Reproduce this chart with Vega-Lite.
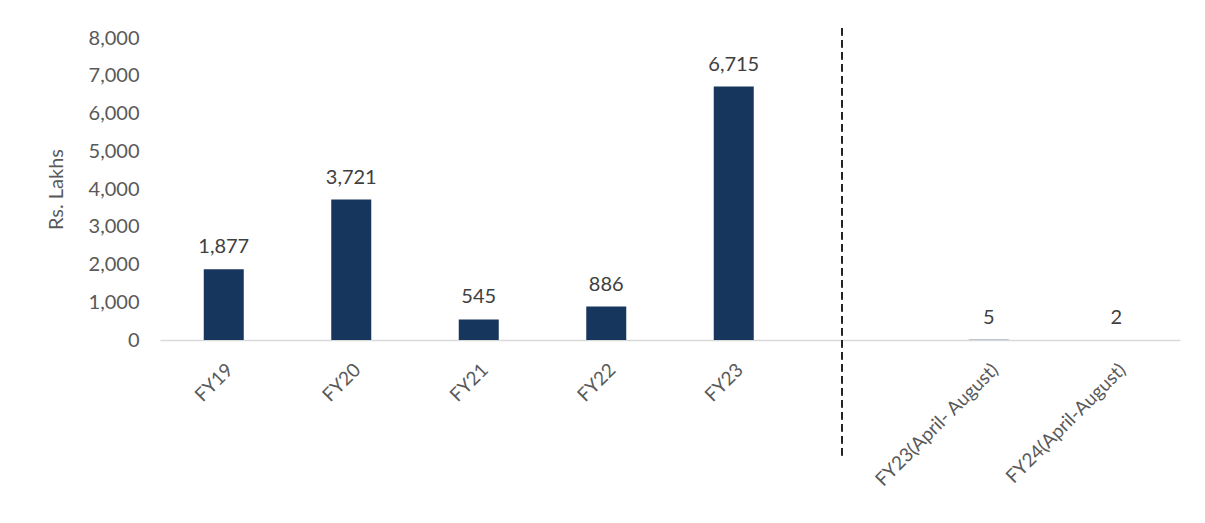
{
  "$schema": "https://vega.github.io/schema/vega-lite/v6.json",
  "autosize": "none",
  "width": 1020,
  "height": 302,
  "padding": {"left": 160, "top": 38, "right": 25, "bottom": 183},
  "background": "white",
  "config": {
    "view": {"stroke": null},
    "font": "Lato",
    "axis": {"labelFont": "Lato", "titleFont": "Lato", "labelColor": "#595959", "titleColor": "#595959"}
  },
  "data": {
    "values": [
      {"period": "FY19", "value": 1877},
      {"period": "FY20", "value": 3721},
      {"period": "FY21", "value": 545},
      {"period": "FY22", "value": 886},
      {"period": "FY23", "value": 6715},
      {"period": "FY23(April- August)", "value": 5},
      {"period": "FY24(April-August)", "value": 2}
    ]
  },
  "encoding": {
    "x": {
      "field": "period",
      "type": "nominal",
      "sort": null,
      "scale": {"domain": ["FY19", "FY20", "FY21", "FY22", "FY23", " ", "FY23(April- August)", "FY24(April-August)"], "paddingInner": 0, "paddingOuter": 0},
      "axis": {"title": null, "labelAngle": -45, "labelFontSize": 19, "ticks": false, "labelPadding": 20, "domainColor": "#d9d9d9", "domainWidth": 1.5}
    },
    "y": {
      "field": "value",
      "type": "quantitative",
      "scale": {"domain": [0, 8000]},
      "axis": {"title": "Rs. Lakhs", "titleFontSize": 20, "titleFontWeight": "normal", "titlePadding": 22, "values": [0, 1000, 2000, 3000, 4000, 5000, 6000, 7000, 8000], "labelExpr": "format(datum.value, ',')", "labelFontSize": 20, "ticks": false, "domain": false, "grid": false, "labelPadding": 21}
    }
  },
  "layer": [
    {"mark": {"type": "bar", "width": 40, "color": "#17365d"}},
    {
      "mark": {"type": "text", "baseline": "alphabetic", "dy": -16, "fontSize": 20, "color": "#404040"},
      "encoding": {"text": {"field": "value", "type": "quantitative", "format": ","}}
    },
    {
      "mark": {"type": "rule", "color": "#262626", "strokeWidth": 1.6, "strokeDash": [7, 5], "clip": false},
      "encoding": {
        "x": {"datum": " ", "bandPosition": 0.35},
        "y": {"datum": 8260},
        "y2": {"datum": -3050}
      }
    }
  ]
}
